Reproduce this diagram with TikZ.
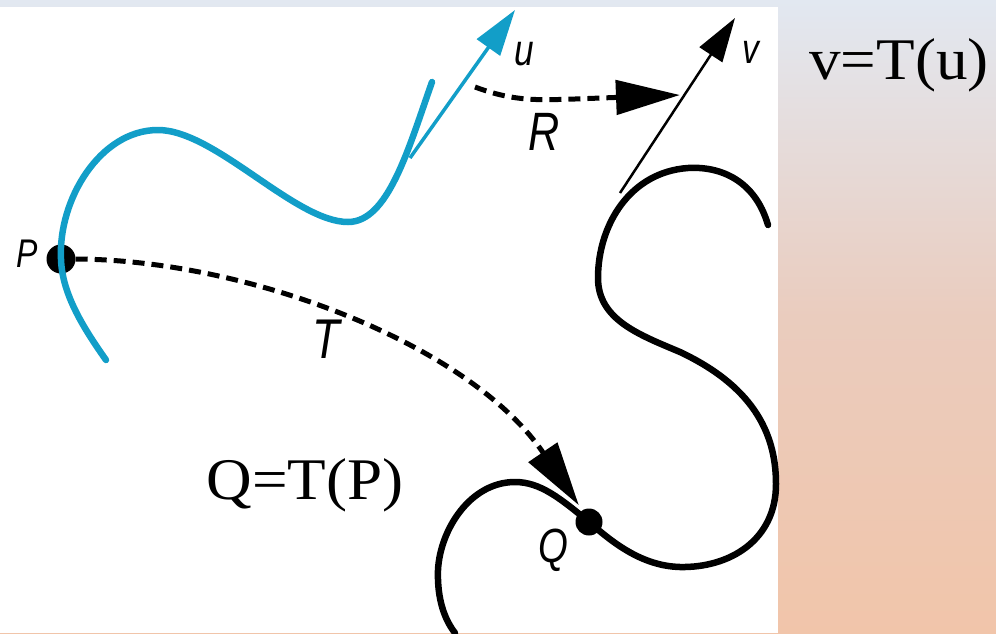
\documentclass[tikz,border=0pt]{standalone}
\usepackage{fontspec}
\usepackage{graphicx}
\setmainfont{Liberation Serif}
\setsansfont{Liberation Sans}
\usetikzlibrary{arrows.meta}
\definecolor{curveblue}{RGB}{18,158,200}
\definecolor{bgtop}{RGB}{226,232,241}
\definecolor{bgmid}{RGB}{234,204,190}
\definecolor{bgbot}{RGB}{241,197,170}
\newcommand{\narrowlbl}[1]{\scalebox{0.8}[1]{#1}}
\begin{document}
\begin{tikzpicture}[x=1pt,y=-1pt,
  bluecurve/.style={draw=curveblue, line width=6.5pt, line cap=round},
  blackcurve/.style={draw=black, line width=6.5pt, line cap=round},
  vecblue/.style={draw=curveblue, line width=3.5pt, -{Triangle[length=46pt,width=28pt]}},
  vecblack/.style={draw=black, line width=2.5pt, -{Triangle[length=44pt,width=27pt]}},
  maparrow/.style={draw=black, line width=5pt, dash pattern=on 12pt off 7pt, -{Triangle[length=64pt,width=34pt]}},
  dot/.style={circle, fill=black, inner sep=0pt, minimum size=#1},
  lbl/.style={font=\sffamily\itshape\fontsize{#1}{#1}\selectfont, inner sep=0pt},
  eqn/.style={font=\fontsize{59}{60}\selectfont, inner sep=0pt, anchor=base, xscale=1.07}
]
\useasboundingbox (0,0) rectangle (996,633);
\shade[top color=bgtop, bottom color=bgbot, middle color=bgmid] (0,0) rectangle (996,633);
\fill[white] (0,7) rectangle (778,633);

% points
\node[dot=29pt] (P) at (61,259) {};
\node[dot=27pt] (Q) at (589,522) {};
\coordinate (u0) at (410,158);
\coordinate (u1) at (515,10);
\coordinate (v0) at (620,193);
\coordinate (v1) at (735,18);
\coordinate (r0) at (475,87);
\coordinate (r1) at (680,95);

% blue curve
\draw[bluecurve] (106,360) .. controls (85,330) and (62,295) .. (P.center)
  .. controls (58,200) and (100,130) .. (158,130)
  .. controls (215,130) and (295,222) .. (348,222)
  .. controls (388,222) and (408,150) .. (432,82);
\draw[vecblue] (u0) -- (u1);

% black curve
\draw[blackcurve] (768,225) .. controls (755,180) and (720,166) .. (688,168)
  .. controls (630,172) and (598,225) .. (598,278)
  .. controls (598,320) and (640,335) .. (680,352)
  .. controls (750,385) and (776,430) .. (776,484)
  .. controls (776,540) and (730,568) .. (680,567)
  .. controls (640,566) and (610,540) .. (Q.center)
  .. controls (560,498) and (540,482) .. (515,482)
  .. controls (470,482) and (440,530) .. (438,570)
  .. controls (437,600) and (445,620) .. (455,633);
\draw[vecblack] (v0) -- (v1);

% maps
\draw[maparrow] (r0) .. controls (515,102) and (540,100) .. (575,99) -- (r1);
\draw[maparrow, shorten >=6pt] (P.east) .. controls (250,260) and (470,345) .. (Q.120);

% labels
\node[lbl=40] (lP) at (27,254) {\narrowlbl{P}};
\node[lbl=44] (lu) at (524,54) {\narrowlbl{u}};
\node[lbl=42] (lv) at (751,52) {\narrowlbl{v}};
\node[lbl=54] (lR) at (544,132) {\narrowlbl{R}};
\node[lbl=56] (lT) at (326,339) {\narrowlbl{T}};
\node[lbl=48] (lQ) at (553,550) {\narrowlbl{Q}};

\node[eqn] (eqv) at (899,79) {v=T(u)};
\node[eqn] (eqq) at (305,499) {Q=T(P)};
\end{tikzpicture}
\end{document}
